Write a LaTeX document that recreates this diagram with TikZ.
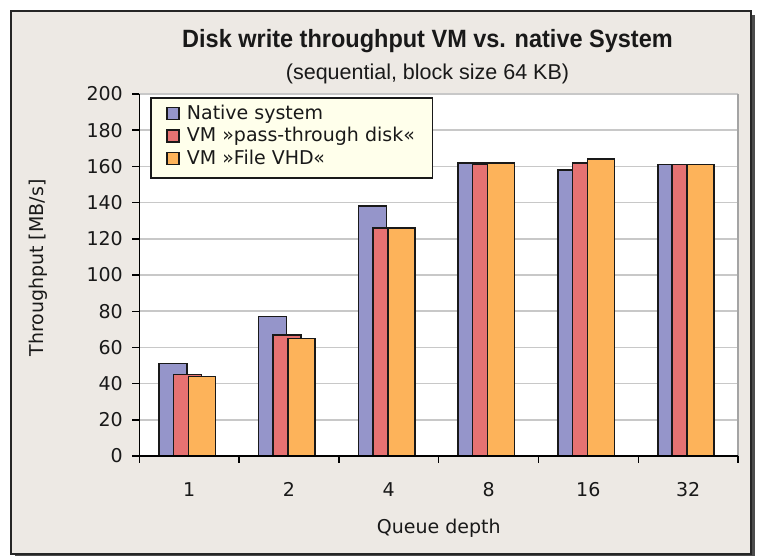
\documentclass[tikz,border=0pt]{standalone}
\usepackage{fontspec}
\setmainfont{DejaVu Sans}
\newfontfamily\headfont[FakeStretch=0.94]{Liberation Sans}
\newfontfamily\subheadfont{Liberation Sans}

\definecolor{chartbg}{HTML}{EDE9E4}
\definecolor{nativec}{HTML}{9595CA}
\definecolor{passc}{HTML}{E67272}
\definecolor{vhdc}{HTML}{FDB35A}
\definecolor{legendbg}{HTML}{FFFFEB}
\definecolor{gridc}{HTML}{C8C8C8}
\definecolor{borderc}{HTML}{A4A4A4}

\begin{document}
\begin{tikzpicture}[x=1pt,y=-1pt,
  bar/.style={draw=black!90, line width=1.6pt},
  gridline/.style={draw=gridc, line width=1.6pt},
  axisline/.style={draw=black, line width=1.4pt},
  lab/.style={font=\fontsize{19}{23}\selectfont, inner sep=0pt, text=black!90},
  legtext/.style={lab, anchor=base west},
  swatch/.style={draw=black!90, line width=1.3pt}]

\useasboundingbox (0,0) rectangle (760,556);

% chart frame with drop shadow
\fill[black!70] (15,15) rectangle (755,556);
\fill[chartbg] (11,11) rectangle (751,554);
\draw[black!85, line width=1.2pt] (11,11) rectangle (751,554);

% titles
\node[anchor=base, inner sep=0pt, font=\headfont\bfseries\fontsize{25}{30}\selectfont, text=black!90]
  (title) at (427.5,48) {Disk write throughput VM vs. native System};
\node[anchor=base, inner sep=0pt, font=\subheadfont\fontsize{21.5}{26}\selectfont, text=black!90]
  (subtitle) at (427.5,80) {(sequential, block size 64 KB)};

% plot area
\fill[white] (139.3,94) rectangle (738,456);
\foreach \v in {20,40,...,200} {
  \draw[gridline] (139.3,{456-1.81*\v}) -- (738,{456-1.81*\v});
}
\draw[draw=borderc, line width=1.6pt] (738,94) -- (738,456);

% bars: queue depth / native / pass-through / file VHD
\foreach \k/\lab/\a/\b/\c in {0/1/51/45/44, 1/2/77/67/65, 2/4/138/126/126,
                              3/8/162/161/162, 4/16/158/162/164, 5/32/161/161/161} {
  \pgfmathsetmacro\xl{139.3+99.78*\k}
  \filldraw[bar, fill=nativec] (\xl+19.5,456) rectangle (\xl+47.5,{456-1.81*\a});
  \filldraw[bar, fill=passc]   (\xl+34,456)   rectangle (\xl+62,{456-1.81*\b});
  \filldraw[bar, fill=vhdc]    (\xl+49,456)   rectangle (\xl+76,{456-1.81*\c});
  \node[lab, anchor=base] (xlab-\k) at (\xl+49.9,496) {\lab};
}

% axes and ticks
\draw[axisline] (139.3,94) -- (139.3,456) -- (738,456);
\foreach \v in {0,20,...,200} {
  \draw[axisline] (132.3,{456-1.81*\v}) -- (139.3,{456-1.81*\v});
  \node[lab, anchor=east] (ylab-\v) at (123,{456-1.81*\v}) {\v};
}
\foreach \k in {0,...,6} {
  \draw[axisline] ({139.3+99.78*\k},456) -- ({139.3+99.78*\k},463);
}

% axis titles
\node[lab, anchor=base] (xtitle) at (438.7,533) {Queue depth};
\node[lab, rotate=90] (ytitle) at (38.5,268) {Throughput [MB/s]};

% legend
\node[draw=black!90, fill=legendbg, line width=1.5pt, anchor=north west,
      minimum width=281.4pt, minimum height=80pt, inner sep=0pt] (legend) at (150.3,97.3) {};
\filldraw[swatch, fill=nativec] (167,107.3) rectangle (179,119.3);
\filldraw[swatch, fill=passc]   (167,130)   rectangle (179,142);
\filldraw[swatch, fill=vhdc]    (167,152.5) rectangle (179,164.5);
\node[legtext] (leg-native) at (186.7,119.3) {Native system};
\node[legtext] (leg-pass)   at (186.7,142)   {VM »pass-through disk«};
\node[legtext] (leg-vhd)    at (186.7,164.5) {VM »File VHD«};
\end{tikzpicture}
\end{document}
